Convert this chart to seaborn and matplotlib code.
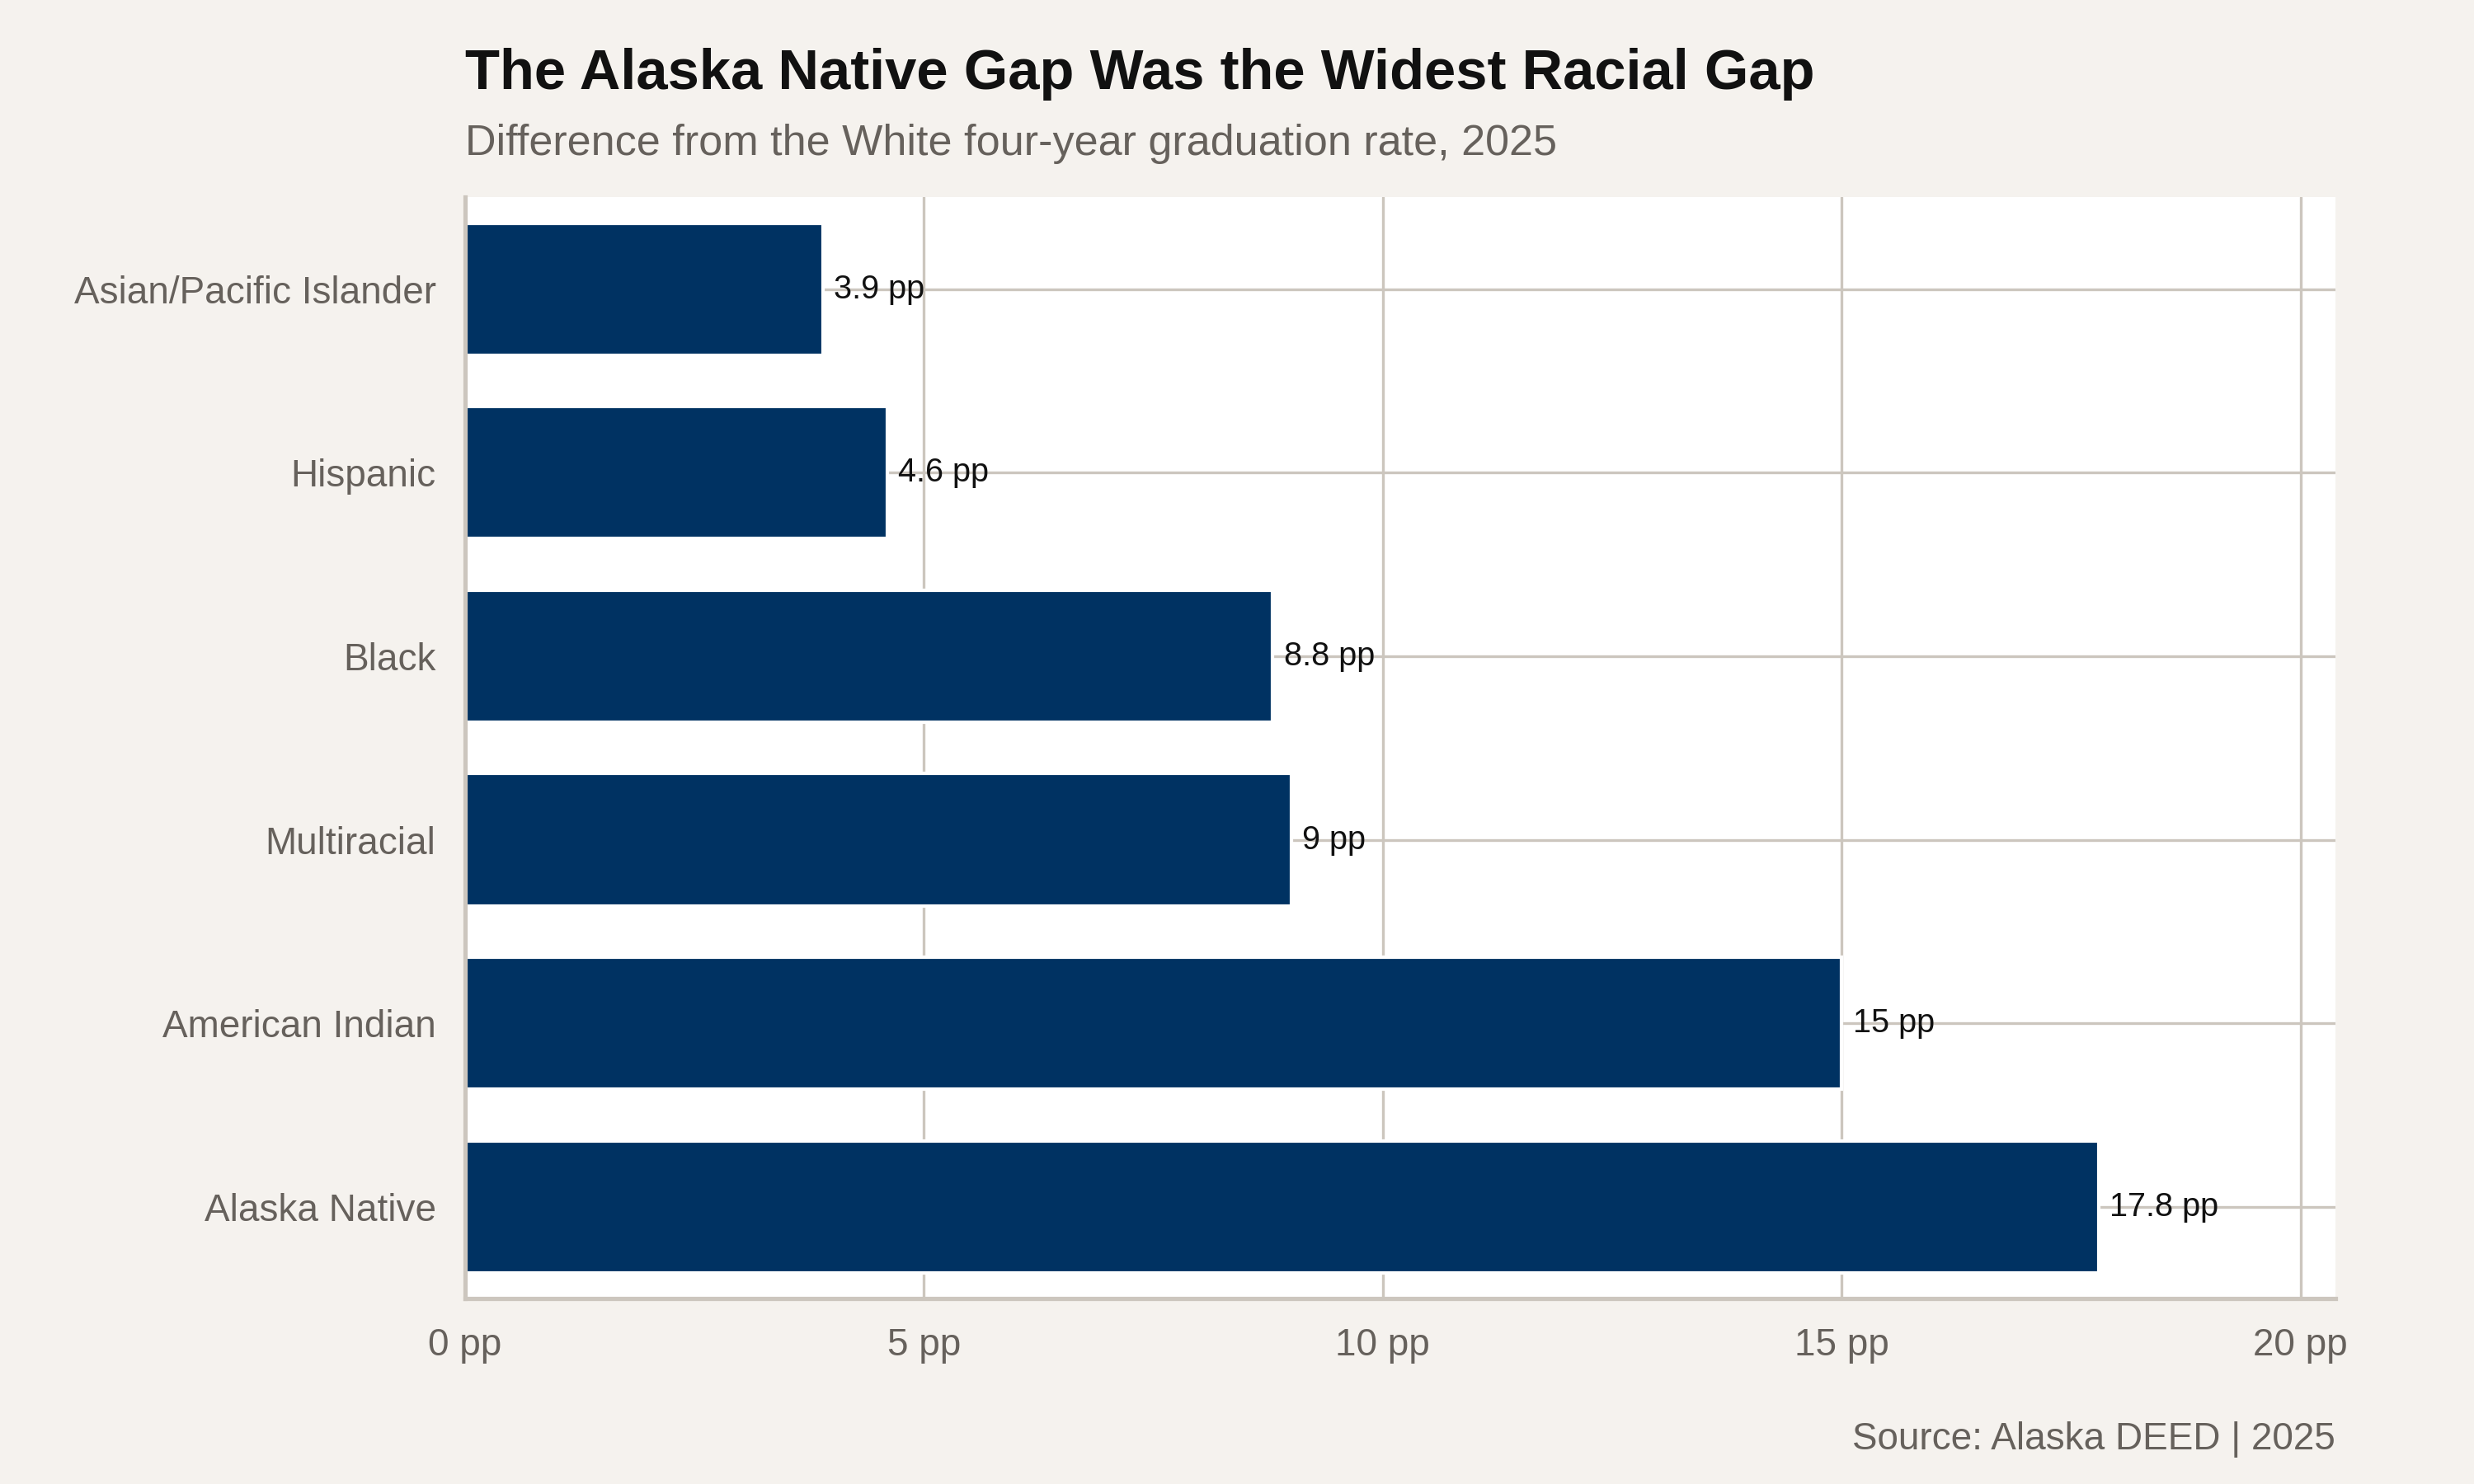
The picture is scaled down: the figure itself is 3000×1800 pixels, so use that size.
import matplotlib
matplotlib.use("Agg")
import matplotlib.pyplot as plt
import seaborn as sns
import pandas as pd

groups = ["Asian/Pacific Islander", "Hispanic", "Black", "Multiracial", "American Indian", "Alaska Native"]
gaps = [3.9, 4.6, 8.8, 9.0, 15.0, 17.8]
labels = ["3.9 pp", "4.6 pp", "8.8 pp", "9 pp", "15 pp", "17.8 pp"]
xticks = [0, 5, 10, 15, 20]

df = pd.DataFrame({"group": groups, "gap": gaps})

sns.set_theme(style="white")
plt.rcParams['font.family'] = ['Liberation Sans', 'DejaVu Sans']

bg = "#F5F2EE"
fig = plt.figure(figsize=(10, 6), dpi=300, facecolor=bg)
ax = fig.add_axes([0.188, 0.125, 0.756, 0.742])
ax.set_facecolor("white")
sns.barplot(data=df, y="group", x="gap", color="#003262", width=0.72, ax=ax, saturation=1)
ax.set_axisbelow(True)
ax.grid(True, axis="both", color="#CCC6BE", linewidth=0.8)
ax.set_xlim(0, 20.38)
ax.set_xticks(xticks)
ax.set_xticklabels([f"{t} pp" for t in xticks])
ax.set_xlabel("")
ax.set_ylabel("")
for s in ["top", "right"]:
    ax.spines[s].set_visible(False)
for s in ["left", "bottom"]:
    ax.spines[s].set_color("#CCC6BE")
ax.tick_params(axis="both", colors="#CCC6BE", labelcolor="#66615C", labelsize=11, length=5, width=0.8)
for i, (v, l) in enumerate(zip(gaps, labels)):
    ax.text(v + 0.12, i, l, va="center", ha="left", fontsize=9.5, color="#111111")

fig.text(0.188, 0.95, "The Alaska Native Gap Was the Widest Racial Gap", fontsize=16.5,
         fontweight="bold", color="#111111", ha="left", va="center")
fig.text(0.188, 0.903, "Difference from the White four-year graduation rate, 2025", fontsize=12.5,
         color="#66615C", ha="left", va="center")
fig.text(0.944, 0.03, "Source: Alaska DEED | 2025", fontsize=11, color="#66615C", ha="right", va="center")

fig.savefig("out.png", dpi=300, facecolor=bg)
